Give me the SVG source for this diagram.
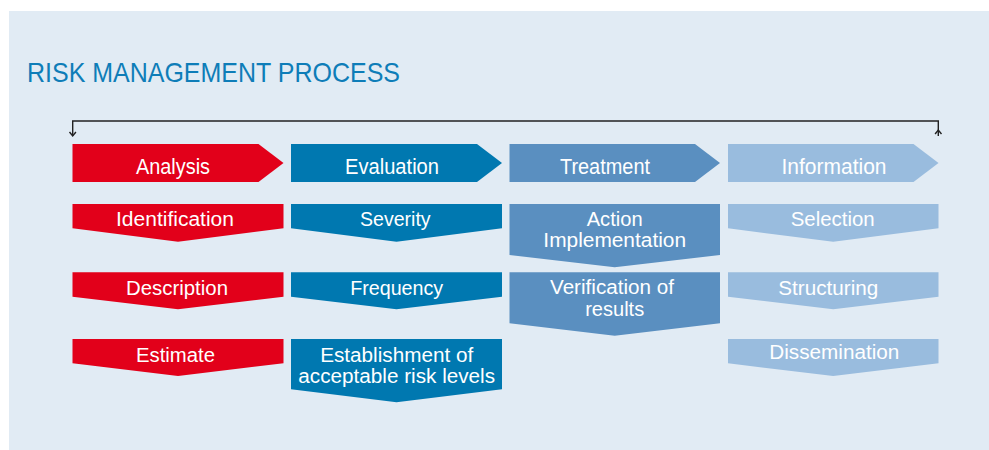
<svg xmlns="http://www.w3.org/2000/svg" width="989" height="450" viewBox="0 0 989 450">
  <defs>
    <style>
      .bg { fill: #E1EBF4; }
      .title { font-family: "Liberation Sans", Arial, sans-serif; font-size: 28px; fill: #0E7DB8; }
      .lbl { font-family: "Liberation Sans", Arial, sans-serif; font-size: 20px; fill: #FFFFFF; text-anchor: middle; }
      .hdr { font-size: 22px; }
      .red { fill: #E2001A; }
      .dblue { fill: #0078B0; }
      .mblue { fill: #5A8FC0; }
      .lblue { fill: #99BCDE; }
      .conn { fill: none; stroke: #222222; stroke-width: 1.4; }
    </style>
  </defs>
  <rect class="bg" x="9" y="11" width="980" height="439"/>
  <text class="title" x="27" y="82" textLength="373" lengthAdjust="spacingAndGlyphs">RISK MANAGEMENT PROCESS</text>

  <g id="connectors">
    <path class="conn" d="M938.3,136 V121 H72.7 V136"/>
    <polyline class="conn" points="69.5,132 72.7,136 75.9,132"/>
    <polyline class="conn" points="935.1,134 938.3,130 941.5,134"/>
  </g>

  <g id="analysis">
    <polygon class="red" points="72.5,144 258.5,144 283.5,163 258.5,182 72.5,182"/>
    <text class="lbl hdr" x="173" y="174" textLength="74" lengthAdjust="spacingAndGlyphs">Analysis</text>
  </g>
  <g id="evaluation">
    <polygon class="dblue" points="291,144 477,144 502,163 477,182 291,182"/>
    <text class="lbl hdr" x="392" y="174" textLength="94" lengthAdjust="spacingAndGlyphs">Evaluation</text>
  </g>
  <g id="treatment">
    <polygon class="mblue" points="509.5,144 695,144 720,163 695,182 509.5,182"/>
    <text class="lbl hdr" x="605" y="174" textLength="90" lengthAdjust="spacingAndGlyphs">Treatment</text>
  </g>
  <g id="information">
    <polygon class="lblue" points="728,144 913.5,144 938.5,163 913.5,182 728,182"/>
    <text class="lbl hdr" x="834" y="174" textLength="105" lengthAdjust="spacingAndGlyphs">Information</text>
  </g>

  <g id="identification">
    <polygon class="red" points="72.5,204 283.5,204 283.5,228.3 178,241.7 72.5,228.3"/>
    <text class="lbl" x="175" y="226" textLength="118" lengthAdjust="spacingAndGlyphs">Identification</text>
  </g>
  <g id="description">
    <polygon class="red" points="72.5,272.3 283.5,272.3 283.5,296.7 178,309.3 72.5,296.7"/>
    <text class="lbl" x="177" y="295" textLength="102" lengthAdjust="spacingAndGlyphs">Description</text>
  </g>
  <g id="estimate">
    <polygon class="red" points="72.5,339 283.5,339 283.5,363.3 178,376 72.5,363.3"/>
    <text class="lbl" x="175.5" y="361.7" textLength="79" lengthAdjust="spacingAndGlyphs">Estimate</text>
  </g>

  <g id="severity">
    <polygon class="dblue" points="291,204 502,204 502,228.3 396.5,241.7 291,228.3"/>
    <text class="lbl" x="395.3" y="226" textLength="70.7" lengthAdjust="spacingAndGlyphs">Severity</text>
  </g>
  <g id="frequency">
    <polygon class="dblue" points="291,272.3 502,272.3 502,296.7 396.5,309.3 291,296.7"/>
    <text class="lbl" x="396.7" y="294.5" textLength="93" lengthAdjust="spacingAndGlyphs">Frequency</text>
  </g>
  <g id="establishment">
    <polygon class="dblue" points="291,339 502,339 502,389.3 396.5,402.3 291,389.3"/>
    <text class="lbl" x="396.7" y="361.7" textLength="153" lengthAdjust="spacingAndGlyphs">Establishment of</text>
    <text class="lbl" x="396.7" y="382.7" textLength="196.7" lengthAdjust="spacingAndGlyphs">acceptable risk levels</text>
  </g>

  <g id="action-implementation">
    <polygon class="mblue" points="509.5,204 720,204 720,255 614.7,267.3 509.5,255"/>
    <text class="lbl" x="614.7" y="226" textLength="56" lengthAdjust="spacingAndGlyphs">Action</text>
    <text class="lbl" x="614.7" y="247.3" textLength="142.7" lengthAdjust="spacingAndGlyphs">Implementation</text>
  </g>
  <g id="verification">
    <polygon class="mblue" points="509.5,272.3 720,272.3 720,323.3 614.7,335.7 509.5,323.3"/>
    <text class="lbl" x="612" y="294.3" textLength="124" lengthAdjust="spacingAndGlyphs">Verification of</text>
    <text class="lbl" x="614.7" y="316" textLength="59" lengthAdjust="spacingAndGlyphs">results</text>
  </g>

  <g id="selection">
    <polygon class="lblue" points="728,204 938.5,204 938.5,228.3 833.2,241.7 728,228.3"/>
    <text class="lbl" x="832.7" y="226" textLength="84" lengthAdjust="spacingAndGlyphs">Selection</text>
  </g>
  <g id="structuring">
    <polygon class="lblue" points="728,272.3 938.5,272.3 938.5,296.7 833.2,309.3 728,296.7"/>
    <text class="lbl" x="828.3" y="294.5" textLength="100" lengthAdjust="spacingAndGlyphs">Structuring</text>
  </g>
  <g id="dissemination">
    <polygon class="lblue" points="728,339 938.5,339 938.5,363.3 833.2,376 728,363.3"/>
    <text class="lbl" x="834.3" y="359.3" textLength="130" lengthAdjust="spacingAndGlyphs">Dissemination</text>
  </g>
</svg>
